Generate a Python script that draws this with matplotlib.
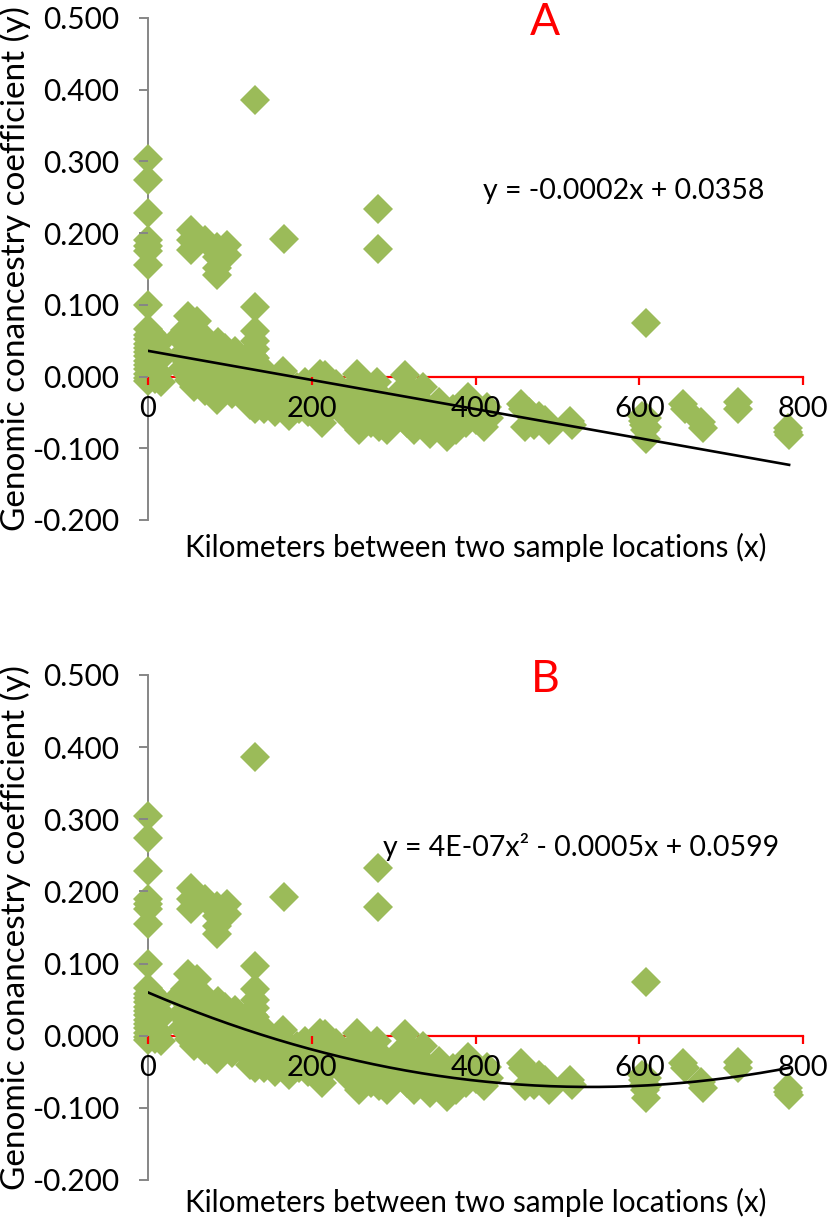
import numpy as np
import matplotlib
matplotlib.use("Agg")
import matplotlib.pyplot as plt
from matplotlib.ticker import FormatStrFormatter

plt.rcParams["font.family"] = ["Lato", "DejaVu Sans"]
plt.rcParams["axes.unicode_minus"] = False

# pairwise distance (km) and genomic conancestry
dist_km = [
    0, 0, 0, 0, 0, 0, 0, 0, 0, 0, 0, 0, 0, 0, 0, 0, 0, 0, 0, 0, 0,
    4, 5, 6, 7, 8, 10, 10, 12, 13, 15, 15, 16,
    38, 40, 42, 45, 46, 48, 49, 50, 52, 53, 55, 56, 58, 60, 60, 62, 64, 65, 66, 68, 70,
    52, 52, 52, 70, 84, 84, 84, 84, 96, 96,
    72, 74, 76, 78, 80, 82, 84, 86, 88, 90, 92, 94, 96, 98, 100, 102, 104, 106, 108,
    131, 131, 131, 131, 131, 131, 131, 131, 131, 131, 131,
    115, 118, 120, 122, 125, 126, 128, 135, 138, 140, 142, 145, 148, 150, 152, 155,
    158, 160, 162, 165, 166, 170, 172, 175,
    131, 166, 281, 281, 608,
    182, 185, 188, 192, 195, 198, 200, 205, 208, 210, 212, 214, 216, 218, 222, 225,
    230, 235, 238, 242, 245, 250, 255, 256, 258, 260,
    265, 268, 272, 275, 278, 280, 282, 285, 290, 292, 298, 302, 305, 310, 314, 316,
    318, 322, 325, 330, 334, 336, 338, 342, 345,
    352, 355, 360, 365, 368, 372, 376, 380, 385, 388, 391, 395, 400, 405, 410, 414, 416,
    455, 458, 460, 465, 470, 472, 478, 485, 487, 490, 515, 518,
    603, 605, 606, 607, 608, 610, 610,
    654, 656, 676, 678, 720, 721, 782, 782, 783,
]
coancestry = [
    0.304, 0.274, 0.228, 0.190, 0.182, 0.175, 0.155, 0.100, 0.066, 0.058, 0.052,
    0.046, 0.040, 0.034, 0.028, 0.022, 0.016, 0.010, 0.004, -0.002, -0.006,
    0.060, 0.030, 0.012, 0.045, -0.004, 0.052, 0.020, 0.035, 0.005, 0.048, 0.025, -0.008,
    0.055, 0.030, 0.010, 0.065, 0.045, 0.020, 0.085, -0.005, 0.060, 0.035, 0.010,
    -0.015, 0.050, 0.078, 0.025, 0.000, 0.040, -0.010, 0.015, 0.055, -0.020,
    0.204, 0.190, 0.176, 0.190, 0.180, 0.166, 0.152, 0.141, 0.183, 0.169,
    0.045, 0.020, -0.005, 0.035, 0.010, -0.020, -0.033, 0.048, 0.025, 0.000, -0.015,
    0.040, 0.015, -0.008, 0.030, -0.024, 0.010, 0.035, -0.010,
    0.097, 0.064, 0.050, 0.038, 0.026, 0.015, 0.004, -0.008, -0.020, -0.032, -0.045,
    0.020, -0.005, -0.025, 0.005, -0.040, -0.015, 0.028, -0.030, -0.010, 0.010,
    -0.045, -0.025, -0.005, -0.040, -0.018, -0.050, -0.030, 0.000, -0.012, 0.008,
    -0.040, -0.025, -0.055, -0.035,
    0.386, 0.192, 0.233, 0.178, 0.075,
    -0.015, -0.045, -0.030, -0.008, -0.050, -0.022, -0.040, -0.012, 0.000, 0.004,
    -0.065, -0.030, 0.002, -0.048, -0.020, -0.038, -0.010, -0.045, -0.025, -0.055,
    -0.035, -0.015, 0.004, -0.045, -0.075, -0.060,
    -0.030, -0.050, -0.065, -0.040, -0.020, -0.008, -0.070, -0.055, -0.035, -0.075,
    -0.045, -0.060, -0.025, -0.040, 0.002, -0.065, -0.015, -0.050, -0.075, -0.030,
    -0.060, -0.015, -0.070, -0.045, -0.080,
    -0.055, -0.035, -0.070, -0.085, -0.060, -0.045, -0.075, -0.050, -0.038, -0.065,
    -0.029, -0.045, -0.060, -0.050, -0.070, -0.043, -0.058,
    -0.038, -0.045, -0.070, -0.050, -0.060, -0.068, -0.055, -0.061, -0.070, -0.075,
    -0.062, -0.068,
    -0.055, -0.062, -0.068, -0.075, -0.087, -0.058, -0.070,
    -0.038, -0.045, -0.064, -0.072, -0.036, -0.045, -0.072, -0.078, -0.082,
]

x_ticks = [0, 200, 400, 600, 800]
y_ticks = [-0.2, -0.1, 0.0, 0.1, 0.2, 0.3, 0.4, 0.5]

# trend line coefficients (highest power first)
lin_coef = [-0.000203, 0.0358]
quad_coef = [4.49e-7, -0.000485, 0.0599]

panel_letters = ["A", "B"]
equations = ["y = -0.0002x + 0.0358", "y = 4E-07x\u00b2 - 0.0005x + 0.0599"]
eq_pos = [(409, 0.259), (287, 0.262)]
xlabel_y = [-0.074, -0.064]

green = "#9BBB59"
grey = "#868686"

fig = plt.figure(figsize=(8.27, 12.2), dpi=100)
ax_a = fig.add_axes([0.1790, 0.5738, 0.7920, 0.4115])
ax_b = fig.add_axes([0.1790, 0.0328, 0.7920, 0.4140])

xs = np.linspace(0, max(dist_km), 200)

for ax, letter, coef, eq, pos, xly in zip(
    [ax_a, ax_b], panel_letters, [lin_coef, quad_coef], equations, eq_pos, xlabel_y
):
    ax.plot(dist_km, coancestry, linestyle="none", marker="D", markersize=15,
            color=green, markeredgewidth=0, zorder=2, clip_on=False)
    ax.plot(xs, np.polyval(coef, xs), color="black", linewidth=1.9, zorder=3)

    ax.set_xlim(0, 800)
    ax.set_ylim(-0.2, 0.5)
    ax.set_xticks(x_ticks)
    ax.set_yticks(y_ticks)
    ax.yaxis.set_major_formatter(FormatStrFormatter("%.3f"))

    for side in ["top", "right"]:
        ax.spines[side].set_visible(False)
    ax.spines["bottom"].set_position(("data", 0))
    ax.spines["bottom"].set_color("red")
    ax.spines["bottom"].set_linewidth(1.6)
    ax.spines["bottom"].set_zorder(1.5)
    ax.spines["left"].set_color(grey)
    ax.spines["left"].set_linewidth(1.4)
    ax.spines["left"].set_zorder(1.5)
    ax.set_axisbelow(False)

    ax.tick_params(axis="x", colors="red", labelcolor="black", length=6,
                   width=1.6, pad=8, labelsize=21)
    ax.tick_params(axis="y", colors=grey, labelcolor="black", length=6.5,
                   width=1.4, pad=14, labelsize=21.5)
    ax.patch.set_alpha(0)

    ax.text(0.5, xly, "Kilometers between two sample locations (x)",
            transform=ax.transAxes, ha="center", va="baseline", fontsize=21.3)
    ax.text(-0.203, 0.5, "Genomic conancestry coefficient (y)",
            transform=ax.transAxes, ha="center", va="center", rotation=90,
            fontsize=24)
    ax.text(pos[0], pos[1], eq, ha="left", va="center", fontsize=20.5, zorder=5)
    ax.text(485, 0.494, letter, ha="center", va="center", fontsize=32,
            color="red", zorder=5)

fig.savefig("out.png", dpi=100)
